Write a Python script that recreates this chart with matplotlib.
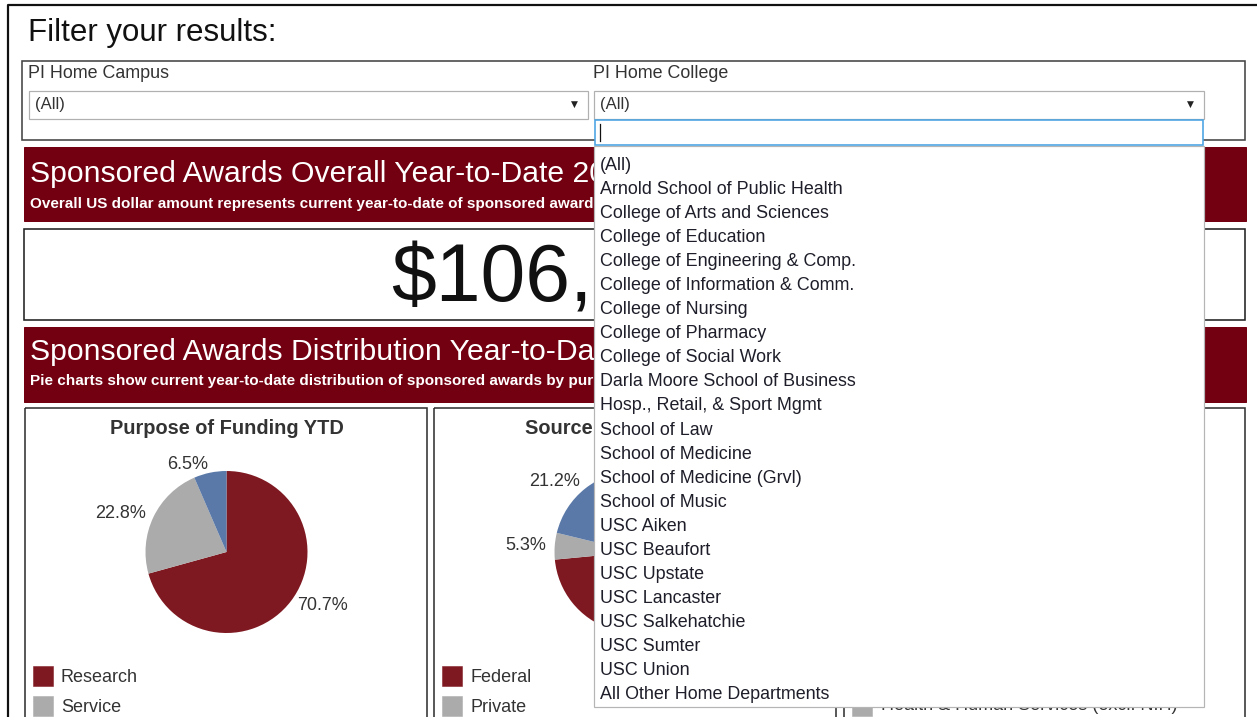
import matplotlib
matplotlib.use("Agg")
import matplotlib.pyplot as plt
from matplotlib.patches import Rectangle
from matplotlib.transforms import Bbox

plt.rcParams["font.family"] = ["Liberation Sans", "DejaVu Sans"]

W, H = 1257, 717

# ---- data -------------------------------------------------------------
college_options = [
    "(All)", "Arnold School of Public Health", "College of Arts and Sciences",
    "College of Education", "College of Engineering & Comp.",
    "College of Information & Comm.", "College of Nursing",
    "College of Pharmacy", "College of Social Work",
    "Darla Moore School of Business", "Hosp., Retail, & Sport Mgmt",
    "School of Law", "School of Medicine", "School of Medicine (Grvl)",
    "School of Music", "USC Aiken", "USC Beaufort", "USC Upstate",
    "USC Lancaster", "USC Salkehatchie", "USC Sumter", "USC Union",
    "All Other Home Departments",
]

purpose_labels = ["Research", "Service", "Instruction"]
purpose_share = [70.7, 22.8, 6.5]

source_labels = ["Federal", "Private", "Other"]
source_share = [73.5, 5.3, 21.2]

sponsor_legend = ["Health & Human Services (excl. NIH)"]

total_ytd_visible = "$106,"

slice_colors = ["#7f1921", "#ababab", "#5a79a8"]
MAROON = "#730010"
TXT = "#333333"

# open dropdown list, image pixels (x0, y0, x1, y1)
DROP = (594, 120, 1204, 707)

fig = plt.figure(figsize=(W / 100, H / 100), dpi=100)
bg = fig.add_axes([0, 0, 1, 1])
bg.set_xlim(0, W)
bg.set_ylim(H, 0)
bg.axis("off")


def box(x0, y0, x1, y1, ec="#333333", fc="none", lw=1.5, z=2):
    bg.add_patch(Rectangle((x0, y0), x1 - x0, y1 - y0, ec=ec, fc=fc,
                           lw=lw * 0.72, zorder=z))


# outer frame
bg.plot([8, 8, W], [H, 5, 5], color="#111111", lw=2.2 * 0.72, zorder=2)

bg.text(28, 33, "Filter your results:", fontsize=22.5, color="#111111",
        va="center", ha="left")

# filter box
box(22, 61, 1245, 140, ec="#444444", lw=1.6)
bg.text(28, 74, "PI Home Campus", fontsize=12.9, color=TXT, va="center")
bg.text(593, 74, "PI Home College", fontsize=12.9, color=TXT, va="center")
for x0, x1 in [(29, 588), (594, 1204)]:
    box(x0, 91, x1, 119, ec="#b0b0b0", fc="white", lw=1.2)
    bg.text(x0 + 6, 105, "(All)", fontsize=12, color=TXT, va="center")
    bg.text(x1 - 14, 104, "\u25bc", fontsize=6.5, color="#222222",
            va="center", ha="center", family="DejaVu Sans")

# banners
box(24, 147, 1246, 221, ec=MAROON, fc=MAROON, lw=1)
bg.text(30, 174, "Sponsored Awards Overall Year-to-Date 2020", fontsize=21.7,
        color="white", va="center")
bg.text(30, 204, "Overall US dollar amount represents current year-to-date "
        "of sponsored awards", fontsize=11, color="white", weight="bold",
        va="center")

box(24, 229, 1245, 320, ec="#222222", fc="white", lw=1.6)
bg.text(391, 281, total_ytd_visible, fontsize=58, color="#111111",
        va="center", ha="left")

box(24, 327, 1246, 402, ec=MAROON, fc=MAROON, lw=1)
bg.text(30, 352, "Sponsored Awards Distribution Year-to-Date", fontsize=21.7,
        color="white", va="center")
bg.text(30, 381, "Pie charts show current year-to-date distribution of "
        "sponsored awards by purpose", fontsize=11, color="white",
        weight="bold", va="center")

# pie panels
pie_axes = []
panels = [
    (25, 427, "Purpose of Funding YTD", purpose_labels, purpose_share),
    (434, 836, "Source of Funding YTD", source_labels, source_share),
]
for x0, x1, title, labels, share in panels:
    box(x0, 408, x1, H + 10, ec="#333333", lw=1.6)
    cx = (x0 + x1) / 2 + 0.5
    bg.text(cx, 429, title, fontsize=14.4, weight="bold", color=TXT,
            ha="center", va="center")
    cy, r = 552, 81
    pax = fig.add_axes([(cx - r) / W, 1 - (cy + r) / H, 2 * r / W, 2 * r / H])
    pax.pie(share, colors=slice_colors, startangle=90, counterclock=False,
            labels=[f"{v:.1f}%" for v in share], labeldistance=1.1,
            textprops=dict(fontsize=13, color=TXT),
            wedgeprops=dict(lw=0))
    pax.set_xlim(-1, 1)
    pax.set_ylim(-1, 1)
    pax.set_zorder(1)
    pie_axes.append(pax)
    for i, name in enumerate(labels):
        y = 676 + i * 30
        if y + 10 > H:
            break
        box(x0 + 8, y - 10, x0 + 28, y + 10, ec=slice_colors[i],
            fc=slice_colors[i], lw=0.5)
        bg.text(x0 + 36, y + 1, name, fontsize=13, color=TXT, va="center")

# third panel (mostly hidden by the open dropdown)
box(844, 408, 1245, H + 10, ec="#333333", lw=1.6)
for i, name in enumerate(sponsor_legend):
    y = 706 + i * 30
    box(852, y - 10, 872, y + 10, ec=slice_colors[1], fc=slice_colors[1], lw=0.5)
    bg.text(881, y, name, fontsize=13, color=TXT, va="center")

# open dropdown list on top
top = fig.add_axes([0, 0, 1, 1])
top.set_xlim(0, W)
top.set_ylim(H, 0)
top.axis("off")
top.set_zorder(5)
top.add_patch(Rectangle((DROP[0], 146), DROP[2] - DROP[0], DROP[3] - 146,
                        ec="#b5b5b5", fc="white", lw=1.2 * 0.72))
top.add_patch(Rectangle((595, 120), 608, 25, ec="#4aa3e3", fc="white",
                        lw=1.6 * 0.72))
top.plot([600, 600], [124, 141], color="#111111", lw=0.9)
for i, name in enumerate(college_options):
    top.text(600, 165.5 + i * 24.05, name, fontsize=12.9, color="#1e1e2a",
             va="center", ha="left")

# texts under the open list: hide the covered ones, clip the rest
fig.canvas.draw()
rend = fig.canvas.get_renderer()
for ax in [bg] + pie_axes:
    for t in ax.texts:
        bb = t.get_window_extent(rend)
        tx0, tx1 = bb.x0, bb.x1
        ty0, ty1 = H - bb.y1, H - bb.y0
        if tx1 <= DROP[0] or tx0 >= DROP[2] or ty1 <= DROP[1] or ty0 >= DROP[3]:
            continue
        if tx0 >= DROP[0] and tx1 <= DROP[2] and ty0 >= DROP[1] and ty1 <= DROP[3]:
            t.set_visible(False)
        elif tx0 < DROP[0]:
            t.set_clip_box(Bbox.from_extents(0, 0, DROP[0], H))
            t.set_clip_on(True)
        else:
            t.set_clip_box(Bbox.from_extents(0, 0, W, H - DROP[3]))
            t.set_clip_on(True)

fig.savefig("out.png", dpi=100)
